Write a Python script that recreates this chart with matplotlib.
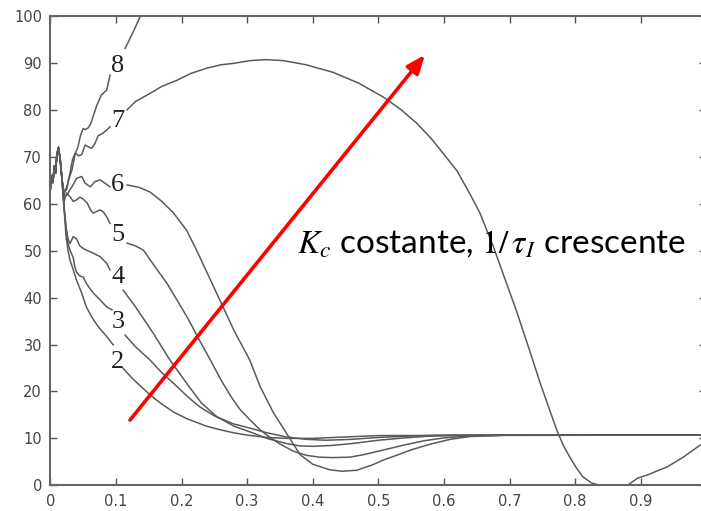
import matplotlib
matplotlib.use("Agg")
import matplotlib.pyplot as plt

# --- data ---
# shared start (fast oscillation before the curves split)
x_start = [0.0, 0.002, 0.004, 0.006, 0.008, 0.010, 0.0125, 0.015, 0.018]
y_start = [63.0, 66.0, 64.5, 68.0, 66.5, 70.5, 72.0, 69.5, 65.0]

# each curve: part before its label, part after its label
x8a = [0.021, 0.025, 0.028, 0.033, 0.038, 0.042, 0.046, 0.050, 0.054, 0.058, 0.062, 0.066, 0.071, 0.078, 0.086, 0.091]
y8a = [62.5, 63.0, 65.1, 67.2, 70.7, 72.0, 74.5, 76.0, 75.8, 76.2, 77.2, 78.9, 81.0, 83.2, 84.2, 87.4]
x8b = [0.114, 0.119, 0.129, 0.138, 0.150]
y8b = [93.1, 94.5, 97.4, 100.2, 104.0]

x7a = [0.021, 0.026, 0.030, 0.034, 0.038, 0.043, 0.048, 0.053, 0.058, 0.063, 0.068, 0.073, 0.080, 0.086, 0.091]
y7a = [62.0, 64.0, 66.5, 69.5, 70.8, 70.2, 70.5, 72.5, 72.1, 71.8, 72.8, 74.5, 75.0, 75.7, 76.4]
x7b = [0.117, 0.130, 0.152, 0.170, 0.193, 0.215, 0.239, 0.260, 0.279, 0.305, 0.330, 0.355, 0.390,
       0.431, 0.470, 0.508, 0.535, 0.559, 0.580, 0.599, 0.620, 0.640, 0.655, 0.675, 0.693, 0.711,
       0.730, 0.747, 0.760, 0.772, 0.782, 0.792, 0.802, 0.812, 0.825, 0.838, 0.850, 0.860, 0.870,
       0.880, 0.895, 0.910, 0.940, 0.965, 0.990, 1.000]
y7b = [80.0, 81.8, 83.5, 85.0, 86.3, 87.8, 88.9, 89.6, 89.9, 90.5, 90.7, 90.5, 89.6,
       88.0, 85.7, 82.7, 80.0, 77.1, 74.0, 70.7, 67.0, 62.0, 58.0, 51.0, 44.0, 37.0,
       29.0, 21.7, 16.5, 11.8, 8.5, 6.0, 3.7, 1.8, 0.5, 0.0, -1.2, -1.5, -1.0,
       0.0, 1.5, 2.2, 3.9, 6.0, 8.5, 9.2]

x6a = [0.021, 0.026, 0.030, 0.033, 0.040, 0.048, 0.053, 0.061, 0.068, 0.076, 0.083, 0.091]
y6a = [61.5, 62.0, 63.0, 63.6, 65.4, 65.8, 64.4, 63.6, 64.7, 65.1, 64.4, 63.6]
x6b = [0.117, 0.135, 0.152, 0.170, 0.188, 0.208, 0.223, 0.240, 0.260, 0.280, 0.304, 0.320, 0.340,
       0.365, 0.381, 0.400, 0.426, 0.445, 0.467, 0.490, 0.508, 0.530, 0.549, 0.580, 0.610, 0.640,
       0.700, 1.000]
y6b = [64.0, 63.5, 62.5, 60.5, 58.0, 54.3, 50.1, 45.0, 39.0, 33.0, 26.7, 21.0, 15.5,
       10.0, 6.5, 4.5, 3.3, 3.0, 3.2, 4.3, 5.4, 6.5, 7.5, 8.8, 9.8, 10.4,
       10.7, 10.7]

x5a = [0.021, 0.025, 0.030, 0.035, 0.040, 0.045, 0.050, 0.056, 0.061, 0.065, 0.070, 0.076, 0.081, 0.086, 0.091]
y5a = [60.5, 62.3, 61.5, 60.5, 60.8, 61.4, 61.0, 60.2, 58.8, 58.0, 58.3, 58.7, 58.2, 57.2, 55.8]
x5b = [0.117, 0.130, 0.142, 0.160, 0.178, 0.193, 0.210, 0.227, 0.244, 0.260, 0.275, 0.289, 0.304,
       0.320, 0.335, 0.350, 0.370, 0.390, 0.410, 0.430, 0.457, 0.480, 0.510, 0.540, 0.570, 0.600,
       0.640, 0.700, 1.000]
y5b = [51.6, 51.0, 50.1, 46.5, 43.0, 39.5, 35.5, 31.0, 26.7, 22.5, 19.0, 16.2, 14.0,
       11.8, 10.2, 8.8, 7.3, 6.4, 6.0, 5.9, 6.0, 6.6, 7.6, 8.6, 9.5, 10.1,
       10.5, 10.7, 10.7]

x4a = [0.021, 0.024, 0.027, 0.030, 0.035, 0.040, 0.045, 0.050, 0.055, 0.065, 0.076, 0.086, 0.091]
y4a = [59.0, 55.0, 52.5, 51.5, 53.0, 52.5, 51.0, 50.5, 50.1, 49.5, 48.7, 47.3, 45.9]
x4b = [0.111, 0.130, 0.157, 0.180, 0.208, 0.230, 0.254, 0.280, 0.304, 0.330, 0.360, 0.380, 0.400,
       0.430, 0.460, 0.500, 0.540, 0.580, 0.650, 1.000]
y4b = [41.6, 38.0, 32.4, 27.2, 21.7, 17.6, 14.6, 12.6, 11.4, 10.0, 8.9, 8.4, 8.3,
       8.5, 8.9, 9.6, 10.1, 10.5, 10.7, 10.7]

x3a = [0.020, 0.024, 0.027, 0.030, 0.035, 0.037, 0.040, 0.045, 0.050, 0.055, 0.060, 0.066, 0.076, 0.086, 0.094]
y3a = [61.0, 55.0, 51.5, 50.1, 48.5, 46.8, 45.4, 44.6, 44.4, 43.0, 42.0, 40.9, 39.5, 38.0, 37.4]
x3b = [0.114, 0.130, 0.152, 0.170, 0.188, 0.210, 0.228, 0.250, 0.279, 0.304, 0.330, 0.360, 0.390,
       0.420, 0.460, 0.500, 0.550, 0.600, 1.000]
y3b = [32.0, 29.5, 26.7, 24.0, 21.7, 18.8, 16.7, 14.8, 13.1, 12.2, 11.2, 10.3, 9.8,
       9.6, 9.8, 10.2, 10.5, 10.7, 10.7]

x2a = [0.020, 0.022, 0.024, 0.027, 0.030, 0.035, 0.040, 0.048, 0.055, 0.063, 0.073, 0.086, 0.096]
y2a = [61.0, 57.0, 53.0, 50.1, 48.0, 45.9, 43.7, 40.9, 38.0, 35.9, 33.8, 31.7, 29.9]
x2b = [0.111, 0.125, 0.137, 0.152, 0.167, 0.188, 0.208, 0.238, 0.260, 0.279, 0.300, 0.330, 0.360,
       0.400, 0.450, 0.500, 1.000]
y2b = [24.9, 22.8, 21.2, 19.3, 17.6, 15.6, 14.2, 12.6, 11.8, 11.2, 10.7, 10.2, 10.0,
       10.0, 10.3, 10.6, 10.7]

curve_names = ['8', '7', '6', '5', '4', '3', '2']
label_x = [0.103] * 7
label_y = [89.3, 77.6, 64.0, 53.3, 44.4, 34.8, 26.3]

x_ticks = [0, 0.1, 0.2, 0.3, 0.4, 0.5, 0.6, 0.7, 0.8, 0.9]
x_tick_labels = ['0', '0.1', '0.2', '0.3', '0.4', '0.5', '0.6', '0.7', '0.8', '0.9']
y_ticks = [0, 10, 20, 30, 40, 50, 60, 70, 80, 90, 100]

arrow_start = (0.1215, 13.9)
arrow_end = (0.571, 91.7)

# --- figure ---
plt.rcParams['mathtext.fontset'] = 'stix'
fig = plt.figure(figsize=(7.01, 5.11), dpi=100)
ax = fig.add_axes([50.3 / 701, 1 - 485.3 / 511, 656 / 701, (485.3 - 16) / 511])

line_col = '#5a5a5a'
curves = [
    (x8a, y8a, x8b, y8b),
    (x7a, y7a, x7b, y7b),
    (x6a, y6a, x6b, y6b),
    (x5a, y5a, x5b, y5b),
    (x4a, y4a, x4b, y4b),
    (x3a, y3a, x3b, y3b),
    (x2a, y2a, x2b, y2b),
]
for xa, ya, xb, yb in curves:
    ax.plot(x_start + xa, y_start + ya, color=line_col, lw=1.1)
    ax.plot(xb, yb, color=line_col, lw=1.1)

for name, lx, ly in zip(curve_names, label_x, label_y):
    ax.text(lx, ly, name, ha='center', va='center', fontsize=19,
            family='Liberation Serif', color='#222222')

ax.annotate('', xy=arrow_end, xytext=arrow_start,
            arrowprops=dict(arrowstyle='-|>,head_length=1.1,head_width=0.45',
                            color='red', lw=2.6, shrinkA=0, shrinkB=0))

ax.text(0.376, 49.7, r'$K_c$ costante, $1/\,\tau_I$ crescente', fontsize=24,
        family='Lato', color='black', ha='left', va='baseline')

ax.set_xlim(0, 1)
ax.set_ylim(0, 100)
ax.set_xticks(x_ticks)
ax.set_xticklabels(x_tick_labels)
ax.set_yticks(y_ticks)
ax.tick_params(direction='in', length=5, width=1, color='#555555',
               labelsize=10.5, labelcolor='#444444', top=True, right=True, pad=6)
for s in ax.spines.values():
    s.set_color('#666666')
    s.set_linewidth(1.5)

fig.savefig('out.png', dpi=100)
